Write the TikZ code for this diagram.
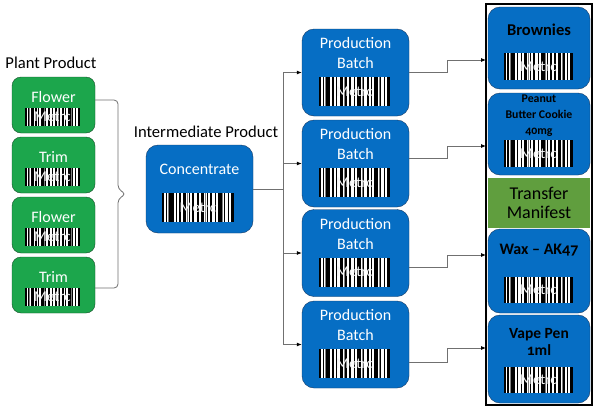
\documentclass[tikz,border=0pt]{standalone}
\usepackage{fontspec}
\setmainfont{Carlito}
\newfontfamily\oldnum{Carlito}[Numbers=OldStyle]
\usetikzlibrary{positioning}
\usetikzlibrary{calc}
\usetikzlibrary{arrows.meta}
\definecolor{leafgreen}{RGB}{28,166,76}
\definecolor{leafdark}{RGB}{20,80,40}
\definecolor{metrcblue}{RGB}{6,110,196}
\definecolor{bluedark}{RGB}{22,58,100}
\definecolor{manifestgreen}{RGB}{96,158,62}
\definecolor{linegray}{RGB}{112,112,112}
\tikzset{
    plantbox/.style = {rectangle, rounded corners=9pt, draw=leafdark, thin, fill=leafgreen, minimum width=83pt, minimum height=56pt},
    batchbox/.style = {rectangle, rounded corners=12pt, draw=bluedark, thin, fill=metrcblue, minimum width=107pt, minimum height=87pt},
    itembox/.style = {rectangle, rounded corners=12pt, draw=bluedark, thin, fill=metrcblue, minimum width=102pt},
    wlabel/.style = {text=white, align=center, inner sep=0pt, font=\fontsize{16}{20}\selectfont},
    klabel/.style = {text=black, align=center, inner sep=0pt, font=\oldnum\bfseries\fontsize{16}{17}\selectfont},
    title/.style = {text=black, inner sep=0pt, font=\fontsize{16.6}{17}\selectfont},
    tag/.style 2 args = {rectangle, fill=white, inner sep=0pt, minimum width=#1pt, minimum height=#2pt,
        text=white!92!gray, font=\fontsize{15}{15}\selectfont,
        path picture={
            \foreach \a/\b in {0/.03, .05/.07, .10/.16, .19/.21, .24/.26, .29/.34, .37/.39, .42/.45, .49/.51,
                               .54/.59, .62/.64, .67/.70, .73/.75, .78/.83, .86/.88, .91/.93, .96/1}
                \fill[black] ($(path picture bounding box.south west)!\a!(path picture bounding box.south east)$)
                    rectangle ($(path picture bounding box.north west)!\b!(path picture bounding box.north east)$);
            \foreach \a/\b in {.08/.09, .35/.36, .60/.61, .84/.85}
                \fill[gray] ($(path picture bounding box.south west)!\a!(path picture bounding box.south east)$)
                    rectangle ($(path picture bounding box.north west)!\b!(path picture bounding box.north east)$);
        }},
    conn/.style = {draw=linegray, line width=0.8pt},
    arr/.style = {conn, -{Latex[length=5pt, width=4pt, color=black]}},
}

\begin{document}
\begin{tikzpicture}[x=1pt, y=-1pt]
\fill[white] (0,0) rectangle (595,410);
\useasboundingbox (0,0) rectangle (595,410);
%
\node[title] (plant) at (51,63) {Plant Product};
\node[title] (inter) at (206,132) {Intermediate Product};
%
\foreach \n/\y/\t in {1/105/Flower, 2/165/Trim, 3/225/Flower, 4/285/Trim} {
    \node[plantbox] (g\n) at (53.5,\y) {};
    \node[wlabel] (gt\n) at ($(g\n)+(0,-8)$) {\t};
    \node[tag={55}{18}] (gc\n) at ($(g\n)+(-1,12)$) {Metrc};
}
%
\node[batchbox, minimum height=88pt] (conc) at (199.5,189) {};
\node[wlabel] (conct) at (199.5,169) {Concentrate};
\node[tag={72}{29}] (concc) at (198,207.5) {Metrc};
%
\foreach \n/\y in {1/72.5, 2/163.5, 3/253, 4/344.5} {
    \node[batchbox] (pb\n) at (355.5,\y) {};
    \node[wlabel] (pbt\n) at ($(pb\n)+(0,-19.5)$) {Production\\Batch};
    \node[tag={71}{29}] (pbc\n) at ($(pb\n)+(-1,19)$) {Metrc};
}
%
\node[itembox, minimum height=82pt] (brown) at (539,48) {};
\node[klabel, font=\oldnum\bfseries\fontsize{16.5}{17}\selectfont] (brownt) at (539,30) {Brownies};
\node[tag={69}{27}] (brownc) at (538.5,66.5) {Metrc};
\node[itembox, minimum height=82pt] (cookie) at (539,134) {};
\node[klabel, font=\oldnum\bfseries\fontsize{11.8}{16}\selectfont] (cookiet) at (539,116) {Peanut\\Butter Cookie\\40mg};
\node[tag={69}{27}] (cookiec) at (538.5,153.5) {Metrc};
\node[rectangle, fill=manifestgreen, minimum width=102pt, minimum height=50pt, align=center,
      text=black, font=\fontsize{18}{19}\selectfont] (manif) at (539,202.5) {Transfer\\Manifest};
\node[itembox, minimum height=84pt] (wax) at (539,271) {};
\node[klabel] (waxt) at (539,250) {Wax – AK47};
\node[tag={69}{26}] (waxc) at (538.5,290) {Metrc};
\node[itembox, minimum height=88pt] (vape) at (539,359) {};
\node[klabel, font=\oldnum\bfseries\fontsize{15.5}{17}\selectfont] (vapet) at (539,341.5) {Vape Pen\\1ml};
\node[tag={69}{26}] (vapec) at (538.5,380) {Metrc};
\draw[black, line width=1.2pt] (486,4) rectangle (592,405);
%
\draw[conn, rounded corners=4pt] ($(g1.east)+(0,-5)$) -- (118,100) -- (118,189) -- (126,194)
    -- (118,199) -- (118,288) -- ($(g4.east)+(0,3)$);
\coordinate (split) at (283,189);
\draw[conn] (conc.east) -- (split);
\foreach \n in {1,...,4}
    \draw[arr] (split) |- (pb\n.west);
%
\coordinate (in1) at (486,60);
\coordinate (in2) at (486,146);
\coordinate (in3) at (486,255);
\coordinate (in4) at (486,348);
\draw[arr] (pb1.east) -- ++(38,0) |- (in1);
\draw[arr] ($(pb2.east)+(0,-5.5)$) -- ++(38,0) |- (in2);
\draw[arr] ($(pb3.east)+(0,14)$) -- ++(38,0) |- (in3);
\draw[arr] ($(pb4.east)+(0,17.5)$) -- ++(38,0) |- (in4);
\end{tikzpicture}
\end{document}
